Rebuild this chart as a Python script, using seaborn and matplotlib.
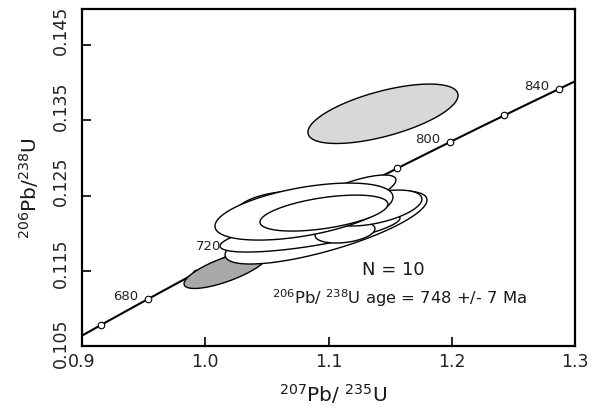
import numpy as np
import matplotlib
matplotlib.use("Agg")
import matplotlib.pyplot as plt
from matplotlib.transforms import blended_transform_factory, offset_copy
import seaborn as sns
import pandas as pd

# U-Pb spot analyses, listed in drawing order:
# ellipse centre, half-widths of the error ellipse and error correlation
pb207_u235 = [1.0169, 1.1442, 1.0980, 1.0850, 1.1134, 1.1377, 1.1174, 1.0647, 1.0801, 1.0963]
err_207 = [0.0341, 0.0609, 0.0819, 0.0730, 0.0243, 0.0381, 0.0373, 0.0406, 0.0722, 0.0519]
pb206_u238 = [0.11517, 0.13587, 0.12076, 0.12015, 0.12015, 0.12334, 0.12507, 0.12307, 0.12287, 0.12267]
err_206 = [0.00252, 0.00395, 0.00486, 0.00266, 0.00146, 0.00239, 0.00266, 0.00252, 0.00379, 0.00239]
rho = [0.75, 0.62, 0.75, 0.70, 0.30, 0.50, 0.75, 0.20, 0.51, 0.50]
excluded = [True, True, False, False, False, False, False, False, False, False]

# Concordia age marks (Ma)
marker_ages = [660, 680, 700, 720, 740, 760, 780, 800, 820, 840]
label_ages = [680, 720, 800, 840]

x_ticks = [0.9, 1.0, 1.1, 1.2, 1.3]
y_ticks = [0.105, 0.115, 0.125, 0.135, 0.145]

n_text = "N = 10"
age_text = r"$^{206}$Pb/ $^{238}$U age = 748 +/- 7 Ma"

LAMBDA_238 = 1.55125e-10
LAMBDA_235 = 9.8485e-10


def concordia(age_ma):
    t = np.asarray(age_ma, dtype=float) * 1e6
    return np.expm1(LAMBDA_235 * t), np.expm1(LAMBDA_238 * t)


sns.set_theme(style="white")
plt.rcParams["font.family"] = ["DejaVu Sans"]
plt.rcParams["mathtext.fontset"] = "dejavusans"

fig = plt.figure(figsize=(6.02, 4.11), dpi=100)
ax = fig.add_axes([82 / 602, 1 - 346 / 411, 493 / 602, 337 / 411])

# concordia curve
curve_ages = np.linspace(600, 900, 400)
cx, cy = concordia(curve_ages)
sns.lineplot(x=cx, y=cy, sort=False, color="black", linewidth=1.5, ax=ax, zorder=1)

mx, my = concordia(marker_ages)
marks = pd.DataFrame({"x": mx, "y": my})
sns.scatterplot(data=marks, x="x", y="y", s=22, color="white", edgecolor="black",
                linewidth=0.8, ax=ax, zorder=1.5)

label_offsets = {680: (-7, 1.5), 720: (-17, 0), 800: (-7, 1.5), 840: (-7, 2)}
for age in label_ages:
    lx, ly = concordia(age)
    ax.annotate(str(age), (lx, ly), xytext=label_offsets[age], textcoords="offset points",
                ha="right", va="center", fontsize=9.5, color="#222222", zorder=5)

# error ellipses
t = np.linspace(0, 2 * np.pi, 241)
for i in range(len(pb207_u235)):
    ex = pb207_u235[i] + err_207[i] * np.cos(t)
    ey = pb206_u238[i] + err_206[i] * (rho[i] * np.cos(t) + np.sqrt(1 - rho[i] ** 2) * np.sin(t))
    face = "white"
    if excluded[i]:
        face = "#a9a9a9" if i == 0 else "#d8d8d8"
    ax.fill(ex, ey, facecolor=face, edgecolor="black", linewidth=1.0, zorder=2 + i * 0.1)

ax.text(0.631, 0.2255, n_text, transform=ax.transAxes, ha="center", va="center",
        fontsize=13, color="#1a1a1a")
ax.text(0.643, 0.142, age_text, transform=ax.transAxes, ha="center", va="center",
        fontsize=11.8, color="#1a1a1a")

ax.set_xlim(0.9, 1.3)
ax.set_ylim(0.105, 0.1498)
ax.set_xticks(x_ticks)
ax.set_xticklabels([f"{v:.1f}" for v in x_ticks], fontsize=12.5, color="#222222")
ax.set_yticks(y_ticks)
ax.set_yticklabels([])
ax.tick_params(axis="both", direction="in", length=6.5, width=1.2, colors="black",
               bottom=True, left=True, top=False, right=False)
ax.tick_params(axis="x", pad=5, labelcolor="#222222")

# rotated y tick labels
ytrans = blended_transform_factory(ax.transAxes, ax.transData)
ylabel_shift = [3, 8, 14, 14.5, 15]
for v, dy in zip(y_ticks, ylabel_shift):
    tr = offset_copy(ytrans, fig=fig, x=0, y=dy, units="dots")
    ax.text(-0.0436, v, f"{v:.3f}", transform=tr, rotation=90, ha="center", va="center",
            fontsize=12.5, color="#222222", clip_on=False)

for sp in ax.spines.values():
    sp.set_visible(True)
    sp.set_color("black")
    sp.set_linewidth(1.6)

ax.set_xlabel(r"$^{207}$Pb/ $^{235}$U", fontsize=14.5, color="#1a1a1a", va="center")
ax.set_ylabel(r"$^{206}$Pb/$^{238}$U", fontsize=14.5, color="#1a1a1a", va="center")
ax.xaxis.set_label_coords(0.51, -0.142)
ax.yaxis.set_label_coords(-0.107, 0.47)

fig.savefig("out.png", dpi=100, facecolor="white")
